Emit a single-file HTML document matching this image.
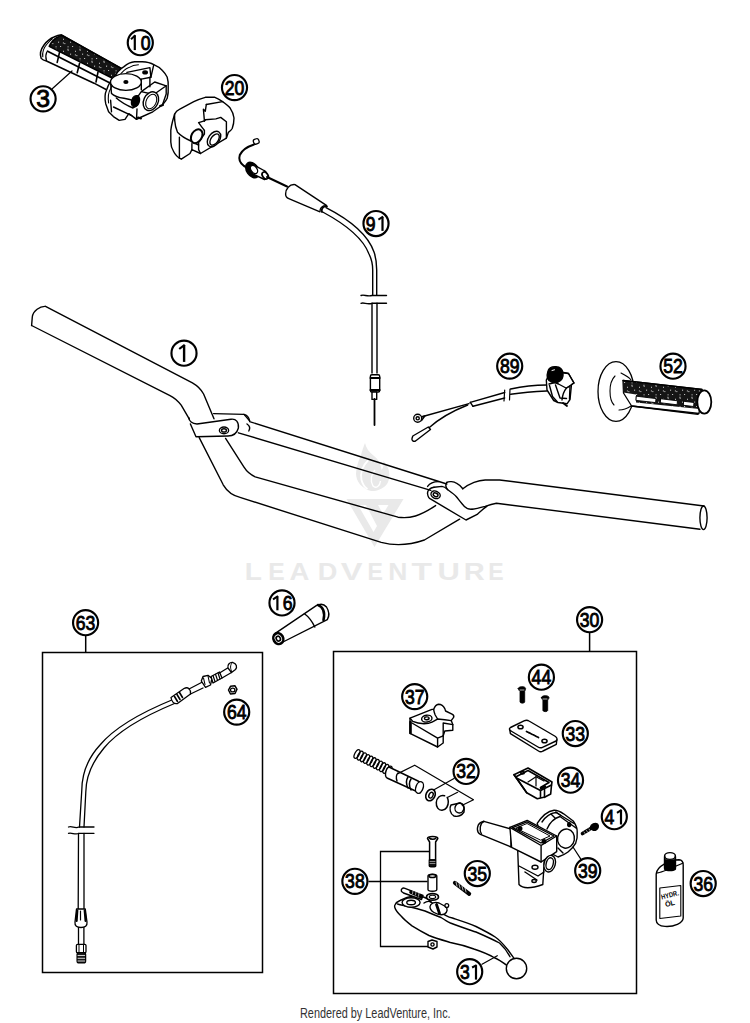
<!DOCTYPE html>
<html><head><meta charset="utf-8"><style>
html,body{margin:0;padding:0;background:#fff;width:750px;height:1023px;overflow:hidden}
svg{display:block;position:absolute;left:0;top:0}
text{font-family:"Liberation Sans",sans-serif}
.foot{position:absolute;left:300px;top:1005px;font-family:"Liberation Sans",sans-serif;font-size:14px;color:#333;white-space:nowrap;transform-origin:0 0;transform:scaleX(0.777)}
</style></head><body>
<svg width="750" height="1023" viewBox="0 0 750 1023">
<defs><pattern id="speck" width="12" height="12" patternUnits="userSpaceOnUse"><rect width="12" height="12" fill="#151515"/><rect x="2.9" y="6.5" width="0.9" height="0.9" fill="#fff"/><rect x="4.4" y="7.2" width="0.9" height="0.9" fill="#fff"/><rect x="7.5" y="0.8" width="0.9" height="0.9" fill="#fff"/><rect x="0.2" y="10.0" width="0.9" height="0.9" fill="#fff"/><rect x="3.1" y="2.8" width="0.9" height="0.9" fill="#fff"/><rect x="11.9" y="5.6" width="0.9" height="0.9" fill="#fff"/><rect x="10.0" y="5.7" width="0.9" height="0.9" fill="#fff"/><rect x="7.7" y="1.8" width="0.9" height="0.9" fill="#fff"/><rect x="7.6" y="10.4" width="0.9" height="0.9" fill="#fff"/></pattern></defs>
<!-- watermark -->
<g fill="#e9e9e9" stroke="none">
<path d="M365,443 C363,448 362,451 361,455 C358,462 356,468 356,474 C356.5,481 360,486 366.8,489.5 C370,491 372,491.2 374,491 C379,490.5 384,488 387,484 C389.5,480 390,474 388.4,469 C387,465 385,462.5 383,461 C384,465 383.5,468 381.5,470 C381,464 378,459 374,456 C369,452 366,448 365,443 Z"/>
<path d="M368,460.5 C362,466 360,474 361.5,480 C362.5,484 364.5,487 367.5,489" fill="none" stroke="#fff" stroke-width="1.8"/>
<path d="M375,470 C371,474 370,481 373,486 C376,489 380,486 380.5,481" fill="none" stroke="#fff" stroke-width="1.4"/>
<path d="M346.5,499 L403.5,499 L374.5,547 Z M358,505 L373.5,532 L377,526 L366,505 Z M378,505 L383,514 L388.5,505 Z" fill-rule="evenodd"/>
</g>
<g fill="#e9e9e9" font-weight="bold" style="font-family:'Liberation Sans',sans-serif">
<text x="0" y="0" font-size="23.4" transform="translate(244.86,580) scale(1.202,1)">L</text>
<text x="0" y="0" font-size="23.4" transform="translate(268.15,580) scale(1.054,1)">E</text>
<text x="0" y="0" font-size="23.4" transform="translate(289.62,580) scale(1.175,1)">A</text>
<text x="0" y="0" font-size="23.4" transform="translate(317.75,580) scale(1.158,1)">D</text>
<text x="0" y="0" font-size="23.4" transform="translate(340.79,580) scale(1.394,1)">V</text>
<text x="0" y="0" font-size="23.4" transform="translate(367.39,580) scale(0.984,1)">E</text>
<text x="0" y="0" font-size="23.4" transform="translate(388.33,580) scale(1.132,1)">N</text>
<text x="0" y="0" font-size="23.4" transform="translate(411.47,580) scale(1.431,1)">T</text>
<text x="0" y="0" font-size="23.4" transform="translate(437.59,580) scale(1.322,1)">U</text>
<text x="0" y="0" font-size="23.4" transform="translate(463.82,580) scale(1.241,1)">R</text>
<text x="0" y="0" font-size="23.4" transform="translate(488.18,580) scale(0.984,1)">E</text>
</g>
<g fill="none" stroke="#000" stroke-width="1.4" stroke-linejoin="round" stroke-linecap="round">
<!-- handlebar -->
<path d="M45.5,306.4 C40,306 33,311 32.3,317 L31.6,325.5"/>
<path d="M45.5,306.4 L192.4,382.8 C198,386 201,389 203.6,394 L214,418.8"/>
<path d="M31.6,325.5 L170,395.6 C175,398 178,401 181.2,405.2 L189.2,418.8"/>
<!-- left clamp -->
<path d="M188.8,417.6 C189,421 192,424 197,424 L231,419.2 C236,418.5 239,422 238.4,428 C237,433 233,436 228,436 L196,436.8 L190.4,424"/>
<path d="M213.6,413.6 L244,414.4 C247,415 249,418 249.6,420.8"/>
<path d="M244,414.4 L249.6,420.8"/>
<path d="M247,424 C250,426 250,429 248.8,431"/>
<ellipse cx="224" cy="430.4" rx="4.6" ry="3.4"/>
<ellipse cx="224" cy="430.4" rx="2.4" ry="1.6"/>
<!-- crossbar -->
<path d="M249.6,421.6 L446.8,484"/>
<path d="M238.4,432.8 L430.8,490.4"/>
<!-- main lower bar -->
<path d="M199.2,437.6 L223.2,484.8 C228,493 234,496 240.8,497.6 L381.2,542.4 C395,546 410,545 424.4,540 L459.6,519.2"/>
<path d="M225.6,438.4 L244,467.2 C247,472 251,475 255.2,476.8 L398,517.2 C410,519 420,516 435.6,505.6"/>
<!-- right clamp -->
<path d="M446.8,482.4 C449,481 454,481.5 456.4,483.2 C459,484.5 461,486.5 462.8,488.8"/>
<path d="M427.6,486.4 C430,483 434,481.5 438.8,481.6"/>
<path d="M434,487.2 C430,487.5 427,491 427.6,494 C428,497 429,498.5 430.8,499.2 L466,520 L477.2,514.4 C481,511 484,508 486.8,506.4"/>
<path d="M434,487.2 L442,486.4 C444.5,486.5 446,488 447.6,489.6 C451,492 454,494 456.4,496.8 C459,500 462,504 464.4,506.4 C467,509 469,509.5 472,509.2"/>
<ellipse cx="435.6" cy="494.8" rx="4.8" ry="3.6" transform="rotate(25 435.6 494.8)"/>
<ellipse cx="435.6" cy="494.8" rx="2.5" ry="1.7" transform="rotate(25 435.6 494.8)"/>
<path d="M446.8,482.4 C445,485 445.5,487 447.6,489.6"/>
<!-- right bar -->
<path d="M462.8,488.8 C466,486 470,484 474,482.4 C478,481 481,480.3 485.2,480 L499.6,480 L704,506"/>
<path d="M472,509.2 C476,508.8 481,507.5 485.2,506.4 C489,505 492,504 496.4,503.2 L700,529.2"/>
<ellipse cx="703.5" cy="517.8" rx="3.6" ry="11.8"/>
</g>
<!-- boxes -->
<g fill="none" stroke="#000" stroke-width="1.5">
<rect x="42.5" y="652.5" width="220" height="320"/>
<line x1="85.7" y1="635" x2="85.7" y2="653"/>
<rect x="333.5" y="651.5" width="303" height="342"/>
<line x1="589.6" y1="632" x2="589.6" y2="652"/>
</g>
<!-- grip 3 -->
<g fill="none" stroke="#000" stroke-width="1.5" stroke-linejoin="round" stroke-linecap="round">
<path d="M41.2,58.4 C39.5,54 41,49 44,45 C47,41 50,38.5 54,37 C56.5,35.8 59,35 61.4,34.8 L121.4,68.4 L113,82 L107,90 L94,83.2 L47,61.2 C44,60.5 42.5,60 41.2,58.4 Z" fill="#fff"/>
<path d="M49.2,46.4 C51,42 54,39 58,37 C59.5,36 61,35.5 62,35.5 L121,68.4 L114,79 Z" fill="url(#speck)"/>
<path d="M42.8,56.8 C42,52 44,47.5 47,44 C49,41.5 50.5,40 52.4,38.8" stroke-width="1.1"/>
<path d="M46.8,52 C45.5,55 45.5,58 46.5,60.5" stroke-width="1.2"/>
<path d="M47.6,51.2 L110,83" stroke-width="1.8"/>
<path d="M59.6,52 L57.2,62.4" stroke-width="1.6"/>
<path d="M79.6,63.2 L77.2,72.8" stroke-width="1.6"/>
<path d="M98,72 L96,82" stroke-width="1.6"/>
<path d="M52.5,88.5 L72,71" stroke-width="1.2"/>
</g>
<!-- housing 10 -->
<g fill="none" stroke="#000" stroke-width="1.4" stroke-linejoin="round" stroke-linecap="round">
<path d="M105.8,104 C104.5,98 105,93 106.7,89.7 C108.5,84 111,80 114.4,77.2 C117,72 120,69 124,66.6 C127,64 131,62 134.6,61.8 L142.2,61.8 C147,62 151,63 153.8,64.7 C157,66 160,68 162.4,70.5 C165,73 166,75 167.2,77.2 C168,80 168.5,83 168.2,86.8 C168.5,91 168,95 167.2,98.3 C166,101 164,103 162.4,105 L152.8,111.8 L140.3,117.5 L136.5,119.4 L131.7,115.6 L128.8,113.7 L125,119.4 L119.2,120.4 L113.4,116.6 L108.6,111.8 Z" fill="#fff"/>
<path d="M108.6,103 C107.8,97 108.5,92 110.6,88.7 C113,83 116,79 119.2,76.2 C122,72 125,69 128.8,67.6 C132,65.5 135,64.7 138.4,64.7" stroke-width="1.1"/>
<path d="M126.9,72.4 L149.9,67.6 L150.9,77.2 L141.3,79.1"/>
<path d="M141.3,79.1 L141.3,89.7 M149.9,77.2 L149.9,86.8"/>
<path d="M153.8,64.7 L150.9,77.2"/>
<ellipse cx="145.1" cy="72.4" rx="2.2" ry="1.4" fill="#000"/>
<path d="M110.6,83 L111.5,93.5 C114,96 118,97.5 124,98.3 C129,99 132,100 134.6,101.2"/>
<path d="M134.6,101.2 L141.3,91.6 L154.7,82 L166.2,85.8 L153.8,94.5 L141.3,91.6"/>
<path d="M153.8,94.5 L155,106 M162.4,105 L166.2,94 L166.2,85.8"/>
<path d="M110.6,100.2 L111.5,111.8"/>
<path d="M116.3,98 C122,103 128,106 133,108 L137.5,105"/>
<path d="M113.5,107 L131.7,115.6 M136.5,119.4 L137,109"/>
<ellipse cx="125.9" cy="82" rx="15.4" ry="8.4" fill="#fff"/>
<ellipse cx="125.9" cy="82" rx="1.9" ry="1.2" fill="#000"/>
<ellipse cx="150.9" cy="101.2" rx="7.2" ry="9.8" transform="rotate(25 150.9 101.2)" fill="#fff"/>
<ellipse cx="151.2" cy="101.5" rx="5" ry="7.6" transform="rotate(25 151.2 101.5)" stroke-width="1.1"/>
<ellipse cx="135.5" cy="101.2" rx="3.8" ry="5.8" transform="rotate(20 135.5 101.2)" fill="#000"/>
<path d="M138,117.5 L141,118.5" stroke-width="2"/>
<path d="M160,106 L163,105" stroke-width="2"/>
</g>
<!-- part 20 -->
<g fill="none" stroke="#000" stroke-width="1.4" stroke-linejoin="round" stroke-linecap="round">
<path d="M174.6,114.1 C176,111 177.5,110 179.4,109.3 L193.8,101.6 C197,100 201,98.5 205.3,97.3 L214.9,97.3 C218,98.5 220,99.8 222.6,101.6 C226,104 228.5,106 230.3,108.3 C232.5,111.5 233.5,114 234,118 C234,122 233.5,125 232.2,128.5 C231,130.5 229.5,131.5 228.4,132.3 L226.4,138.1 L200.5,153.5 L191.9,149.6 L190,153.5 L181.3,159.2 C177,157 175,154.5 173.6,151.5 C171.5,148 170.8,145 170.8,142 L170.8,130.4 C171.2,127 172,123.5 172.7,120.8 Z" fill="#fff"/>
<path d="M174.6,119.8 C175,125 176,129 177.5,132.3 C181,136 186,139 190.9,141 C194,143 196,144 198.6,145"/>
<path d="M179.4,137.1 L179.4,158.3"/>
<path d="M191.9,143.8 L191.9,149.6"/>
<path d="M206.3,104.5 L205.3,111.2 L203.4,109.3 L204.4,120.8 L198.6,122.7 L201.5,126.6 L204.4,130.4"/>
<path d="M206.3,104.5 L222.6,101.6"/>
<path d="M204.4,120.8 L205.3,119.8 L215.9,118.9 L220.7,117.4 L226.4,121.8 L226.4,138.1"/>
<path d="M204.4,130.4 L204.4,134 L198.6,142 L198.6,149.6 L200.5,153.5"/>
<path d="M205.3,119.8 L204.4,121"/>
<path d="M174.6,114.1 L174.6,119.8"/>
<ellipse cx="196.7" cy="136.2" rx="5.2" ry="7.4" transform="rotate(30 196.7 136.2)" stroke-width="2" fill="#fff"/>
<ellipse cx="214" cy="139" rx="5.6" ry="8.6" transform="rotate(35 214 139)" fill="#fff"/>
<ellipse cx="214.6" cy="139.5" rx="3.6" ry="6.4" transform="rotate(35 214.6 139.5)"/>
</g>
<!-- cable 91 -->
<g fill="none" stroke="#000" stroke-width="1.4" stroke-linejoin="round" stroke-linecap="round">
<rect x="253.5" y="139" width="5.5" height="5" rx="1.8" transform="rotate(-20 256 141.5)" stroke-width="1.3"/>
<path d="M254,144.5 C248,146.5 242,150 239.8,155 C238.5,159 240,163 244,166 L249,168.5" stroke-width="2"/>
<ellipse cx="252.5" cy="170" rx="5.8" ry="8.6" transform="rotate(-35 252.5 170)" fill="#000"/>
<path d="M252,164 L264,170.5 C268,172.5 268,178 264.5,179.5 L253,174 Z" fill="#fff"/>
<ellipse cx="254" cy="169.5" rx="3" ry="4.6" transform="rotate(-35 254 169.5)" fill="#fff"/>
<ellipse cx="265.2" cy="175.5" rx="2.6" ry="3.8" transform="rotate(-35 265.2 175.5)" fill="#fff" stroke-width="1.8"/>
<path d="M267,177 L287,186.5" stroke-width="2"/>
<path d="M295,184.6 C289.5,184 285.5,189 285.6,194 C285.6,196.5 287,198 288.8,198.6 L320,211.8 C319.5,208.5 322,205.5 326.4,205.4 Z" fill="#fff"/>
<path d="M322,212 C321,209 323,206 327,206.5" stroke-width="1.8"/>
<path d="M326,207.7 C350,220 368,235 374,252 C376.5,259 376.7,264 376.7,270 L376.7,295"/>
<path d="M322.7,212 C345,224 363,238 369,254 C372,260 372.7,265 372.7,270 L372.7,295"/>
<path d="M361,295.5 C364,294 367,297 372,295.5 L386.5,295.5"/>
<path d="M361,303.3 C364,302 367,305 372,303.3 L386.5,303.3"/>
<path d="M372,303.3 L372,373"/>
<path d="M377,303.3 L377,373"/>
<rect x="370.4" y="374.8" width="9.3" height="17.2" rx="1.5" fill="#fff"/>
<path d="M370.4,378 L379.7,378" stroke-width="1.8"/>
<path d="M370.4,390 L379.7,390" stroke-width="1.8"/>
<rect x="372" y="392" width="4.7" height="7.4" fill="#fff"/>
<path d="M374.5,399 L374.5,425" stroke-width="1.8"/>
</g>
<!-- 89 wiring -->
<g fill="none" stroke="#000" stroke-width="1.4" stroke-linejoin="round" stroke-linecap="round">
<path d="M470.3,402.3 L504.7,392.5"/>
<path d="M473,406.3 L504.7,398"/>
<path d="M470.3,402.3 L473,406.3"/>
<path d="M504.7,390 L504,401" stroke-width="1.2"/>
<path d="M510,389 L509.5,400" stroke-width="1.2"/>
<path d="M510.7,389 C522,386.5 534,385 546.7,385"/>
<path d="M510.7,394.3 C522,392.5 534,391.5 546.7,391"/>
<path d="M469,403.7 L421,417"/>
<path d="M421,417.2 L425,415.8 L421.5,420.5" fill="#fff"/><circle cx="417.7" cy="418.3" r="4" fill="#fff"/>
<circle cx="417.7" cy="418.3" r="1.6"/>
<path d="M467.7,405 C455,410 440,418 429,427.7"/>
<path d="M428.3,427 L430.5,429.5 L415.5,441 C413.5,442 411.5,440.5 412,438.5 L412.8,436 Z" fill="#fff"/>
<!-- switch body -->
<path d="M546.3,380 L547,390 L553.7,400.5 L558,402.5 L567,403.8 L570,399.5 L571.5,384.5 L574,383 L568.5,373.5 L561,372 L548,377 Z" fill="#fff"/>
<path d="M561,372.5 L568.5,373.5 L574,383 L566.5,388 C564,391 562.5,395 562,400" />
<path d="M549,384 L555,382.5 L558.5,384 L566,388"/>
<path d="M549.5,385.5 L552.5,396.5 L557,401.5"/>
<path d="M555.5,385 L560,398 L566.5,398.5"/>
<path d="M566.5,388 L570,386 L569.5,399"/>
<path d="M563,403 L567,406" stroke-width="1.8"/>
<path d="M548,371 C549,367.5 553,366.5 556,366.7 C560,367 562.5,369.5 563,373 C563.5,377 561.5,380.5 558,382 C554,383.5 549,382 547.5,378.5 C547,376 547.3,373 548,371 Z" fill="#000"/>
<path d="M552,370.5 L554.5,369.8" stroke="#fff" stroke-width="1"/>
</g>
<!-- grip 52 -->
<g fill="none" stroke="#000" stroke-width="1.3" stroke-linejoin="round" stroke-linecap="round">
<ellipse cx="616" cy="391.5" rx="18" ry="29.8" fill="#fff"/>
<path d="M615,376 C611,380 610,385 610,391 C610,397 611,402 614,405" stroke-width="1.1"/>
<path d="M621,373 C625,375 629,377 631,380" stroke-width="1.1"/>
<path d="M619,410 C624,410 628,408 631,406" stroke-width="1.1"/>
<path d="M623,380.5 L702,389.5 L699,413.5 L631.6,406 L623.5,393 Z" fill="#fff"/>
<path d="M623,380.5 L702,389.5 L699.5,409 L636,402.5 L636,394.5 L623.3,392.5 Z" fill="url(#speck)" stroke="none"/>
<path d="M636.5,396.2 L656,398.6 L655.6,402.6 L636.2,400.4 Z" fill="#fff" stroke-width="0.9"/>
<path d="M661,398.8 L677.5,400.8 L677.1,404.8 L660.6,402.8 Z" fill="#fff" stroke-width="0.9"/>
<path d="M684,401.3 L694,402.5 L693.6,406.5 L683.6,405.3 Z" fill="#fff" stroke-width="0.9"/>
<path d="M623,380.5 L702,389.5"/>
<path d="M631.6,406 L698,414.3"/>
<ellipse cx="704.3" cy="402" rx="7" ry="11.7" fill="#fff" stroke-width="1.8"/>
</g>
<!-- boot 16 -->
<g fill="none" stroke="#000" stroke-width="1.4" stroke-linejoin="round" stroke-linecap="round">
<path d="M276,632.8 L316.3,605.7 C320,603.5 324,604 326.5,607 C329,611 329.5,616 327.3,619.6 L281,643 C277,644 274,640 274,636 Z" fill="#fff"/>
<path d="M318,605 C322.5,606.5 325.5,612 323.5,620" stroke-width="2.6"/>
<path d="M304.5,613.7 C309,617 312,621 314.8,627"/>
<ellipse cx="278.3" cy="638.6" rx="4.8" ry="5.6" transform="rotate(-30 278.3 638.6)" fill="#fff" stroke-width="2.6"/>
<ellipse cx="278.3" cy="638.6" rx="2" ry="2.5" transform="rotate(-30 278.3 638.6)" stroke-width="1.6"/>
</g>
<!-- cable 63 -->
<g fill="none" stroke="#000" stroke-width="1.3" stroke-linejoin="round" stroke-linecap="round">
<path d="M173,699.5 C140,713 115,727 100,745 C88,758 82,772 81.8,790 L79.5,827"/>
<path d="M174.5,703.5 C142,717 118,731 104,748 C93,761 86,775 85.8,792 L84,827"/>
<path d="M68.5,827 C72,825.5 75,829 79,827 L94,827"/>
<path d="M68.5,833.3 C72,832 75,835.5 79,833.3 L94,833.3"/>
<path d="M78.5,833.3 L78.2,909.7"/>
<path d="M84,833.3 L84,909.7"/>
<path d="M76.5,909 L85.3,909 L87,922 C87.5,926 85,927.5 81,927.5 C77,927.5 74.5,926 75,922 Z" fill="#fff"/>
<path d="M77.3,910.5 L76.6,921 M84.7,910.5 L85.6,921" stroke-width="2.2"/>
<path d="M80.5,911 L80.5,920" stroke-width="1.2"/>
<path d="M78.5,927.5 L78.5,944.4 M83.9,927.5 L83.9,944.4"/>
<rect x="76.4" y="944.4" width="9.6" height="8.2" rx="1.2" fill="#fff"/>
<path d="M79,945 L79,952 M83.5,945 L83.5,952" stroke-width="1"/>
<rect x="77.1" y="952.6" width="8.5" height="10.3" rx="2" fill="#1a1a1a"/>
<path d="M78,955.5 L84.7,955.5 M78,958.3 L84.7,958.3 M78,961 L84.7,961" stroke="#fff" stroke-width="0.8"/>
<!-- top fitting -->
<path d="M171,697.5 L184,688.5 C188,686.5 191,689 190.5,694 L177.5,703.5 C174,704.5 171.5,701.5 171,697.5 Z" fill="#fff"/>
<path d="M174.5,696.5 L177.5,701.5 M177,694.5 L180,699.5 M179.5,692.5 L182.5,697.5" stroke-width="1.6"/>
<path d="M189,689 L201.5,682.5 M190.5,694 L203,688"/>
<path d="M201.3,681 L203,676.5 L208,675.3 L211.9,678.5 L210.5,685 L205.5,687.3 Z" fill="#fff"/>
<path d="M203.5,678 L205,684.5 M208,676 L209.5,683" stroke-width="1.1"/>
<path d="M211,676.5 L219.5,672 L222,678 L213,683 Z" fill="#fff"/>
<path d="M213,675.5 L215,681.5 M215.5,674.3 L217.5,680.2 M218,673 L220,679" stroke-width="1.2"/>
<path d="M219.5,673 L228.5,667.5 M222,678 L231.5,672.5"/>
<path d="M228,668 C227,664.5 230,662 233,662.5 C236.5,663.5 237.5,667 235.5,669.5 L231.5,672.5 Z" fill="#fff"/>
<path d="M232,663 C230,665 230,669 232,671.5" stroke-width="1"/>
<!-- nut 64 -->
<path d="M228.5,690 L230.5,686.3 L235,685.8 L237,689.3 L235,693.5 L230.5,694 Z" fill="#fff" stroke-width="1.5"/>
<ellipse cx="232.7" cy="690" rx="2.2" ry="1.9"/>
</g>
<g fill="none" stroke="#000" stroke-width="1.4" stroke-linejoin="round" stroke-linecap="round">
<!-- 37 -->
<path d="M410,718.2 L432,709.4 L433.6,709.4 C435,706 436,704.6 438.5,704.3 C441,704.3 443.5,706 444.8,708.6 L445.6,711 L452,714.2 C453.5,715 454,716.5 453.6,717.4 L451.2,720.6 L452.8,724.6 L452.8,730.2 L444.8,731 L443.2,735.8 L443.2,743 L437.6,747 L410,733.4 Z" fill="#fff"/>
<path d="M410,718.2 L412.8,721.4 C416,722.8 420,723.6 424,723.8 C427,723.8 430,723.2 432,722.2 C434.5,721 436,720 437.6,719 L444.8,719.8 L451.2,720.6"/>
<path d="M433.6,709.4 C434,711.5 434.5,713.5 435.2,715 L437.6,719"/>
<path d="M412,723 L437.6,738.2 L437.6,747 M437.6,738.2 L443.2,735.8"/>
<path d="M443.2,723 L443.2,735.8 M443.2,723 L452.8,724.6"/>
<path d="M410.5,722 L410.5,733" stroke-width="2.6"/>
<ellipse cx="426.8" cy="718.6" rx="5.2" ry="3.4" transform="rotate(-8 426.8 718.6)" fill="#fff"/>
<ellipse cx="426.8" cy="718.3" rx="2.3" ry="1.4" transform="rotate(-8 426.8 718.3)"/>
<!-- 44 screws -->
<path d="M518.2,688.5 C518.2,686 525.6,686 525.6,688.5 C525.6,690 524.7,691.3 524.7,691.3 L524.7,702 C524.7,703.5 520,703.5 520,702 L520,691.3 C520,691.3 518.2,690 518.2,688.5 Z" fill="#000" stroke-width="0.8"/>
<path d="M520,690 L524,690" stroke="#fff" stroke-width="0.7"/>
<path d="M541.4,697.5 C541.4,695 549,695 549,697.5 C549,699 547.7,700 547.7,700 L547.7,710.5 C547.7,712 542.9,712 542.9,710.5 L542.9,700 C542.9,700 541.4,699 541.4,697.5 Z" fill="#000" stroke-width="0.8"/>
<path d="M543,699 L547,699" stroke="#fff" stroke-width="0.7"/>
<!-- 33 cap -->
<path d="M510.5,727.5 L524,720.8 C526,720 527.5,720 529,721 L555.5,736.5 C557.5,738 557.5,740 556,741 L542.5,747.3 C541,748 539.5,748 538,747 L511,731 C509,730 509,728.5 510.5,727.5 Z" fill="#fff"/>
<path d="M509.8,730 L510.4,733.7 L538.5,751 C540,752 541.5,752 543,751 L556.3,744.4 L556.8,740"/>
<ellipse cx="520.5" cy="727" rx="2.6" ry="1.8" stroke-width="1.5"/>
<ellipse cx="544.5" cy="741" rx="2.6" ry="1.8" stroke-width="1.5"/>
<path d="M526.5,731.5 L538.5,737.5" stroke-width="1.7" stroke-dasharray="1.6 0.9"/>
<!-- 34 -->
<g stroke-width="1.6">
<path d="M514,774.7 L528,768 L552,782 L551.5,785 L550.7,794 L545,797 L537.3,798.7 L526.7,792.7 Z" fill="#fff"/>
<path d="M516.5,776.5 L528,770.5 L549,782.5 L540.5,787.5"/>
<path d="M514,774.7 L516.5,778 L540.5,790.5 L551.5,785"/>
<path d="M516.5,778 L526.7,792.7"/>
<path d="M540.5,790.5 L540.5,797.5 M544.5,789 L544.5,797.5"/>
<path d="M541,788.5 L545,786.5" stroke-width="2.4"/>
<path d="M528,782 L536,776.7 L544,781" stroke-width="1.2"/>
<path d="M536,776.7 L536,786" stroke-width="1.2"/>
<ellipse cx="522.5" cy="772.8" rx="1.8" ry="1.2"/>
</g>
<!-- 32 spring/piston -->
<g stroke-width="1.3">
<ellipse cx="357.0" cy="754.0" rx="2.2" ry="4.8" transform="rotate(27.3 357.0 754.0)"/>
<ellipse cx="360.2" cy="755.6" rx="2.2" ry="4.8" transform="rotate(27.3 360.2 755.6)"/>
<ellipse cx="363.4" cy="757.3" rx="2.2" ry="4.8" transform="rotate(27.3 363.4 757.3)"/>
<ellipse cx="366.6" cy="759.0" rx="2.2" ry="4.8" transform="rotate(27.3 366.6 759.0)"/>
<ellipse cx="369.8" cy="760.6" rx="2.2" ry="4.8" transform="rotate(27.3 369.8 760.6)"/>
<ellipse cx="373.0" cy="762.2" rx="2.2" ry="4.8" transform="rotate(27.3 373.0 762.2)"/>
<ellipse cx="376.2" cy="763.9" rx="2.2" ry="4.8" transform="rotate(27.3 376.2 763.9)"/>
<ellipse cx="379.4" cy="765.5" rx="2.2" ry="4.8" transform="rotate(27.3 379.4 765.5)"/>
<ellipse cx="382.6" cy="767.2" rx="2.2" ry="4.8" transform="rotate(27.3 382.6 767.2)"/>
<ellipse cx="385.8" cy="768.9" rx="2.2" ry="4.8" transform="rotate(27.3 385.8 768.9)"/>
<ellipse cx="389.0" cy="770.5" rx="2.2" ry="4.8" transform="rotate(27.3 389.0 770.5)"/>
</g>
<path d="M389,767 L418,781 C422,783 423,790 420,793 L387,778 C384,776 386,768 389,767 Z" fill="#fff"/>
<path d="M398,773 C396,775 396,778 397,781"/>
<path d="M408,777 C406,780 406,784 408,788 M411,779 C409,782 409,786 411,790" stroke-width="1.5"/>
<ellipse cx="419.5" cy="787.5" rx="3.6" ry="6" transform="rotate(20 419.5 787.5)" fill="#fff"/>
<ellipse cx="430.5" cy="795" rx="4.5" ry="6" transform="rotate(25 430.5 795)" stroke-width="1.6"/>
<ellipse cx="431" cy="795.2" rx="2" ry="3" transform="rotate(25 431 795.2)"/>
<path d="M444.6,795.7 C440,794.5 436.5,798 436.3,802.5 C436,807 438.5,810.5 442,810.3 C446,810 448.5,806 448.3,801.5 C448.2,799.5 447.8,798.3 447.2,797.3" stroke-width="1.5"/>
<path d="M451,805 C449,808 450,814 454,816 C458,817 462,815 464,812 C465,808 463,804 460,803 Z" fill="#fff"/>
<ellipse cx="459.5" cy="808" rx="4.5" ry="5" transform="rotate(20 459.5 808)"/>
<path d="M397.9,773.6 L414.7,765.2 L473.5,799.7 L462.3,805.3" stroke-width="1.2"/>
<path d="M454,778.5 L434,789.7" stroke-width="1.2"/>
<path d="M457.6,792.3 L448.3,797" stroke-width="1.2"/>
<!-- 39 body -->
<path d="M537.2,823.4 C542,816 548,811 554,810.2 C558,810 561,812 563.6,813.8 L573.2,821 C576,825 577.5,828 577.2,832.2 C577.5,836 577,840 575.6,843.4 C573,848 570,850 567.6,852.2 C564,855 561,856 558,857 L545,850 Z" fill="#fff"/>
<path d="M542,822 C546,816 551,813 556,812.5 L574,823.5"/>
<path d="M547,829 C550,822 555,818 560,816.5 L576,828"/>
<path d="M551,814 L555,818 M556,812 L561,815.5"/>
<ellipse cx="566" cy="838.6" rx="8.4" ry="9.6" transform="rotate(10 566 838.6)" fill="#fff"/>
<ellipse cx="569.2" cy="824.6" rx="1.5" ry="2" fill="#000"/>
<path d="M558,848 L563,853"/>
<path d="M517.7,850 L519,884.5 C522,888 530,889 542.8,884.5 L544.5,858 Z" fill="#fff"/>
<path d="M519,866 L538,876 L544,872"/>
<path d="M525,872 L537,880"/>
<ellipse cx="534.1" cy="881" rx="2.2" ry="1.5"/>
<path d="M483.9,821.3 L511,829 L511,847 L480.4,834.3 C476,832 476,823 483.9,821.3 Z" fill="#fff"/>
<path d="M483.9,821.3 C480,823 479,830 481.5,834"/>
<path d="M509.9,827.3 L527.2,820.4 L556.7,836 L556.7,851.6 L541.1,862 L511.6,847.3 Z" fill="#fff"/>
<path d="M509.9,827.3 L541.1,845.5 L556.7,836 M541.1,845.5 L541.1,862"/>
<path d="M512.5,827.6 L527,821.8 L554,836 L541,843 Z"/>
<path d="M516,828 L527,823.5 L550,836 L541,840 Z" stroke-width="1"/>
<circle cx="520" cy="828.5" r="1.8" fill="#000"/>
<circle cx="544" cy="841.5" r="1.8" fill="#000"/>
<ellipse cx="549.7" cy="863.7" rx="5.6" ry="8.5" transform="rotate(15 549.7 863.7)" fill="#fff"/>
<ellipse cx="549.7" cy="863.7" rx="3.5" ry="6" transform="rotate(15 549.7 863.7)"/>
<ellipse cx="535" cy="867.2" rx="3" ry="2" fill="#fff"/>
<path d="M573,847 L581,859.4" stroke-width="1.2"/>
<!-- 41 bolt -->
<path d="M582.5,833.5 L592,827.8" stroke-width="3.6"/>
<path d="M584,832 L585,833.5 M586.5,830.5 L587.5,832 M589,829 L590,830.5" stroke="#fff" stroke-width="0.6"/>
<path d="M590.5,827 C591,824 595,822.5 597.5,824 C599,825.5 598.5,828.5 596,830 C594,831 591.5,830 590.5,827 Z" fill="#000"/>
<!-- 38 bracket, bolt, bushing, nut -->
<path d="M429.6,851.5 L380.5,851.5 L380.5,946.5 L429.6,946.5" stroke-width="1.3" stroke-linecap="butt" stroke-linejoin="miter"/>
<path d="M369,881.5 L427,881.5" stroke-width="1.3"/>
<path d="M427.5,838.5 C427.5,835.8 437.8,835.8 437.8,838.5 L435.6,842 L435.6,866 C435.6,867 429.6,867 429.6,866 L429.6,842 Z" fill="#fff" stroke-width="1.5"/>
<path d="M429.2,837.8 C430.5,839.8 434.8,839.8 436,837.8" stroke-width="1.6"/>
<rect x="429.6" y="859.6" width="6" height="6.8" fill="#111" stroke-width="1"/>
<path d="M430,861.5 L435,861.5 M430,863.5 L435,863.5" stroke="#fff" stroke-width="0.5"/>
<path d="M428,876 C428,873.5 436.8,873.5 436.8,876 L436.8,889.5 C436.8,891.8 428,891.8 428,889.5 Z" fill="#fff"/>
<ellipse cx="432.4" cy="876" rx="3.4" ry="1.5" stroke-width="1.6"/>
<path d="M428,941.5 L432,940 L437,941.5 L437,947 L433,949 L428,947 Z" fill="#fff"/>
<circle cx="432.5" cy="944.5" r="1.6"/>
<!-- 35 spring -->
<path d="M454.9,882.8 L469.2,893.8" stroke-width="4"/>
<path d="M456,882 L457,886 M459,884 L460,888 M462,886 L463,890 M465,888 L466,892" stroke="#fff" stroke-width="0.7"/>
<!-- 31 lever -->
<path d="M394.9,905 C396,902.5 398,901.3 400,900.5 L407,897.5 C411,896 416,895.8 420,896.2 C425,897 429,899.5 431,902 L436,906 L441,912 C444,915 448,917 452.5,918 C460,920.5 468,923 476,926.5 C483,930 489,933 495.2,937 C500,940 504,945 508,950 L514.4,958.9 L508.5,966.6 C503,962.5 498,959 494,957.5 C486,953 480,951 473.9,949 C466,946 458,944 450.4,942.5 C442,940 435,938 429,935.5 C422,932 417,929 412,925.9 C407,922 403.5,919 401.3,916.3 C398,913 395.5,910 394.9,907.7 C394.5,906.5 394.5,905.8 394.9,905 Z" fill="#fff"/>
<path d="M397.5,904 C405,906 415,908 425,911 C432,914 437,916 441,917.5 C444,919.5 447,921.5 450.4,923 C459,926.5 467,929 476,932 C484,935.5 492,939 499.5,943 C504,947 507,951 510,956.8"/>
<ellipse cx="411.1" cy="902.5" rx="9" ry="4.8" fill="#fff"/>
<ellipse cx="411.1" cy="902.5" rx="4.3" ry="2.2"/>
<path d="M424,903 C426,901.5 429,901 431,902"/>
<path d="M401.5,891.5 C400.5,889 402.5,887.5 405,888.3 L423,895.5 L421.5,899.5 L403.5,893 Z" fill="#fff"/>
<path d="M411,892.2 L421,896.6" stroke-width="3.6"/>
<path d="M413,890.8 L412.5,893.8 M416,892 L415.5,895 M419,893.2 L418.5,896.2" stroke="#fff" stroke-width="0.6"/>
<ellipse cx="432.5" cy="896.9" rx="6" ry="3.3" fill="#fff" stroke-width="1.7"/>
<ellipse cx="432.5" cy="896.9" rx="3.2" ry="1.6" stroke-width="1.1"/>
<path d="M430,906.5 C430.5,903 435,901.5 439,903 L445.5,906.5 C448,908.5 447.5,912.5 444.5,914 C441.5,915.3 437.5,914.5 434,912.5 C431.5,911 429.8,909 430,906.5 Z" fill="#fff"/>
<path d="M436.5,904.5 L439.5,913.5" stroke-width="2.8"/>
<circle cx="446.8" cy="905.5" r="1.9" fill="#fff" stroke-width="1.3"/>
<circle cx="516.5" cy="968.5" r="10.2" fill="#fff"/>
<path d="M482,964.3 L497.3,955.7" stroke-width="1.2"/>
</g>
<!-- 36 bottle -->
<g fill="none" stroke="#000" stroke-width="1.4" stroke-linejoin="round" stroke-linecap="round">
<path d="M656.2,874 C657,866 670,860 679,859.8 C682,860 683.2,862 683.2,865 L683.2,918 C683,923 674,927 665,926.4 C659,926 656.2,923 656.2,920 Z" fill="#fff"/>
<path d="M656.5,873 C662,873 676,866 683,863" stroke-width="1.2"/>
<path d="M664.6,857 L664.6,868 C666,871 674,871 675.4,868 L675.4,857" fill="#fff"/>
<path d="M664.6,860 L664.6,869 C666,871 674,871 675.4,869 L675.4,860 Z" fill="#000"/>
<ellipse cx="670" cy="856" rx="5.4" ry="3.4" fill="#fff"/>
<path d="M664.6,856 L664.6,860 C666,862 674,862 675.4,860 L675.4,856"/>
<path d="M659.8,888 L680.8,885.5 L680.8,916 L659.8,918.5 Z" stroke-width="1.1"/>
</g>
<text x="661.5" y="897.5" font-size="7" font-weight="bold" textLength="18" lengthAdjust="spacingAndGlyphs" transform="rotate(-14 670 897.5)" style="font-family:'Liberation Sans',sans-serif">HYDR.</text>
<text x="665.5" y="906" font-size="7.2" font-weight="bold" transform="rotate(-14 670 906)" style="font-family:'Liberation Sans',sans-serif">ÖL</text>

<g fill="#000">
<circle cx="140.3" cy="42.7" r="12.55" fill="#fff" stroke="#000" stroke-width="2.15"/><path d="M134.8,35.4 L134.8,50.1" stroke="#000" stroke-width="2.2" fill="none" stroke-linecap="butt"/><path d="M135.4,35.300000000000004 L131.0,39.3" stroke="#000" stroke-width="2.0" fill="none" stroke-linecap="butt"/><text x="145.6" y="49.72" text-anchor="middle" font-size="19.8" stroke="#000" stroke-width="0.85" textLength="9.8" lengthAdjust="spacingAndGlyphs">0</text>
<circle cx="43.1" cy="98.8" r="12.55" fill="#fff" stroke="#000" stroke-width="2.15"/><text x="43.1" y="106.95" text-anchor="middle" font-size="23.0" stroke="#000" stroke-width="0.85" textLength="13.8" lengthAdjust="spacingAndGlyphs">3</text>
<circle cx="234.5" cy="87.6" r="12.55" fill="#fff" stroke="#000" stroke-width="2.15"/><text x="234.5" y="94.62" text-anchor="middle" font-size="19.8" stroke="#000" stroke-width="0.85" textLength="19.6" lengthAdjust="spacingAndGlyphs">20</text>
<circle cx="376" cy="223.5" r="12.55" fill="#fff" stroke="#000" stroke-width="2.15"/><text x="370.7" y="230.52" text-anchor="middle" font-size="19.8" stroke="#000" stroke-width="0.85" textLength="9.8" lengthAdjust="spacingAndGlyphs">9</text><path d="M382.5,216.8 L382.5,230.9" stroke="#000" stroke-width="2.2" fill="none" stroke-linecap="butt"/><path d="M383.1,216.7 L378.4,219.6" stroke="#000" stroke-width="2.0" fill="none" stroke-linecap="butt"/>
<circle cx="184" cy="353.2" r="12.55" fill="#fff" stroke="#000" stroke-width="2.15"/><path d="M184.1,344.90000000000003 L184.1,361.9" stroke="#000" stroke-width="2.4" fill="none" stroke-linecap="butt"/><path d="M184.7,344.8 L179.2,349.0" stroke="#000" stroke-width="2.1999999999999997" fill="none" stroke-linecap="butt"/>
<circle cx="509.7" cy="366.1" r="12.55" fill="#fff" stroke="#000" stroke-width="2.15"/><text x="509.7" y="373.12" text-anchor="middle" font-size="19.8" stroke="#000" stroke-width="0.85" textLength="19.6" lengthAdjust="spacingAndGlyphs">89</text>
<circle cx="673" cy="366.2" r="12.55" fill="#fff" stroke="#000" stroke-width="2.15"/><text x="673" y="373.22" text-anchor="middle" font-size="19.8" stroke="#000" stroke-width="0.85" textLength="19.6" lengthAdjust="spacingAndGlyphs">52</text>
<circle cx="282" cy="602.9" r="12.55" fill="#fff" stroke="#000" stroke-width="2.15"/><path d="M277.4,596.3 L277.4,610.3" stroke="#000" stroke-width="2.2" fill="none" stroke-linecap="butt"/><path d="M278.0,596.2 L273.0,599.3" stroke="#000" stroke-width="2.0" fill="none" stroke-linecap="butt"/><text x="287.6" y="609.92" text-anchor="middle" font-size="19.8" stroke="#000" stroke-width="0.85" textLength="9.8" lengthAdjust="spacingAndGlyphs">6</text>
<circle cx="85.6" cy="622.7" r="12.55" fill="#fff" stroke="#000" stroke-width="2.15"/><text x="85.6" y="629.72" text-anchor="middle" font-size="19.8" stroke="#000" stroke-width="0.85" textLength="19.6" lengthAdjust="spacingAndGlyphs">63</text>
<circle cx="236.7" cy="712.1" r="12.55" fill="#fff" stroke="#000" stroke-width="2.15"/><text x="236.7" y="719.12" text-anchor="middle" font-size="19.8" stroke="#000" stroke-width="0.85" textLength="19.6" lengthAdjust="spacingAndGlyphs">64</text>
<circle cx="589.6" cy="619.7" r="12.55" fill="#fff" stroke="#000" stroke-width="2.15"/><text x="589.6" y="626.72" text-anchor="middle" font-size="19.8" stroke="#000" stroke-width="0.85" textLength="19.6" lengthAdjust="spacingAndGlyphs">30</text>
<circle cx="541.4" cy="677.2" r="12.55" fill="#fff" stroke="#000" stroke-width="2.15"/><text x="541.4" y="684.22" text-anchor="middle" font-size="19.8" stroke="#000" stroke-width="0.85" textLength="19.6" lengthAdjust="spacingAndGlyphs">44</text>
<circle cx="414.7" cy="696.6" r="12.55" fill="#fff" stroke="#000" stroke-width="2.15"/><text x="414.7" y="703.62" text-anchor="middle" font-size="19.8" stroke="#000" stroke-width="0.85" textLength="19.6" lengthAdjust="spacingAndGlyphs">37</text>
<circle cx="575.3" cy="733.5" r="12.55" fill="#fff" stroke="#000" stroke-width="2.15"/><text x="575.3" y="740.52" text-anchor="middle" font-size="19.8" stroke="#000" stroke-width="0.85" textLength="19.6" lengthAdjust="spacingAndGlyphs">33</text>
<circle cx="466.1" cy="771.4" r="12.55" fill="#fff" stroke="#000" stroke-width="2.15"/><text x="466.1" y="778.42" text-anchor="middle" font-size="19.8" stroke="#000" stroke-width="0.85" textLength="19.6" lengthAdjust="spacingAndGlyphs">32</text>
<circle cx="570.5" cy="780.2" r="12.55" fill="#fff" stroke="#000" stroke-width="2.15"/><text x="570.5" y="787.22" text-anchor="middle" font-size="19.8" stroke="#000" stroke-width="0.85" textLength="19.6" lengthAdjust="spacingAndGlyphs">34</text>
<circle cx="614.3" cy="816.7" r="12.55" fill="#fff" stroke="#000" stroke-width="2.15"/><text x="609.3" y="823.72" text-anchor="middle" font-size="19.8" stroke="#000" stroke-width="0.85" textLength="9.8" lengthAdjust="spacingAndGlyphs">4</text><path d="M621.0,809.9 L621.0,824.5" stroke="#000" stroke-width="2.2" fill="none" stroke-linecap="butt"/><path d="M621.6,809.8000000000001 L617.0,812.9" stroke="#000" stroke-width="2.0" fill="none" stroke-linecap="butt"/>
<circle cx="587.7" cy="870.7" r="12.55" fill="#fff" stroke="#000" stroke-width="2.15"/><text x="587.7" y="877.72" text-anchor="middle" font-size="19.8" stroke="#000" stroke-width="0.85" textLength="19.6" lengthAdjust="spacingAndGlyphs">39</text>
<circle cx="354.9" cy="881.3" r="12.55" fill="#fff" stroke="#000" stroke-width="2.15"/><text x="354.9" y="888.32" text-anchor="middle" font-size="19.8" stroke="#000" stroke-width="0.85" textLength="19.6" lengthAdjust="spacingAndGlyphs">38</text>
<circle cx="477.3" cy="873.5" r="12.55" fill="#fff" stroke="#000" stroke-width="2.15"/><text x="477.3" y="880.52" text-anchor="middle" font-size="19.8" stroke="#000" stroke-width="0.85" textLength="19.6" lengthAdjust="spacingAndGlyphs">35</text>
<circle cx="703.2" cy="883.5" r="12.55" fill="#fff" stroke="#000" stroke-width="2.15"/><text x="703.2" y="890.52" text-anchor="middle" font-size="19.8" stroke="#000" stroke-width="0.85" textLength="19.6" lengthAdjust="spacingAndGlyphs">36</text>
<circle cx="469.7" cy="971.7" r="12.55" fill="#fff" stroke="#000" stroke-width="2.15"/><text x="465.0" y="978.72" text-anchor="middle" font-size="19.8" stroke="#000" stroke-width="0.85" textLength="9.8" lengthAdjust="spacingAndGlyphs">3</text><path d="M476.0,965.1999999999999 L476.0,979.6" stroke="#000" stroke-width="2.2" fill="none" stroke-linecap="butt"/><path d="M476.6,965.1 L472.1,967.5" stroke="#000" stroke-width="2.0" fill="none" stroke-linecap="butt"/>
</g>
</svg>
<div class="foot">Rendered by LeadVenture, Inc.</div>
</body></html>
